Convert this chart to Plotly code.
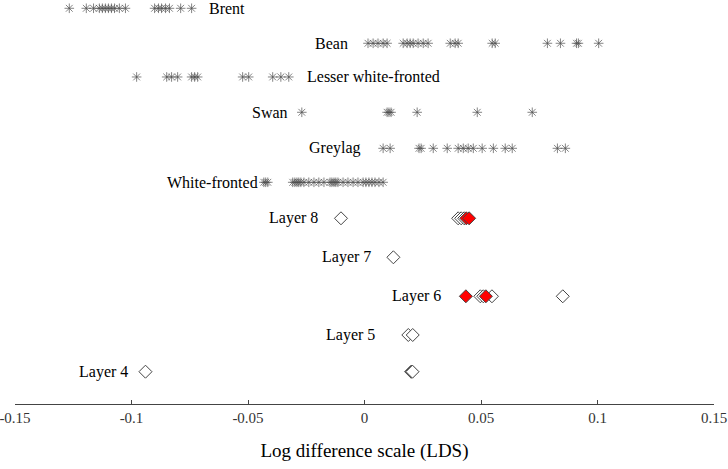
import plotly.graph_objects as go

# ---- data ----
rows = ["Brent", "Bean", "Lesser white-fronted", "Swan", "Greylag", "White-fronted",
        "Layer 8", "Layer 7", "Layer 6", "Layer 5", "Layer 4"]

brent = [-0.1267, -0.1194, -0.1163, -0.1138, -0.1125, -0.1112, -0.1099, -0.1086, -0.1073,
         -0.1052, -0.1026, -0.0901, -0.0884, -0.0871, -0.0854, -0.0837, -0.0789, -0.0742]
bean = [0.0015, 0.0037, 0.0058, 0.0080, 0.0097, 0.0166, 0.0183, 0.0196, 0.0209, 0.0230,
        0.0252, 0.0273, 0.0368, 0.0389, 0.0402, 0.0548, 0.0561, 0.0785, 0.0841, 0.0910,
        0.0918, 0.1005]
lesser = [-0.0978, -0.0849, -0.0828, -0.0802, -0.0742, -0.0729, -0.0716, -0.0523, -0.0497,
          -0.0394, -0.0359, -0.0325]
swan = [-0.0269, 0.0097, 0.0105, 0.0114, 0.0226, 0.0484, 0.0720]
greylag = [0.0080, 0.0110, 0.0234, 0.0243, 0.0295, 0.0355, 0.0402, 0.0424, 0.0445, 0.0467,
           0.0505, 0.0553, 0.0604, 0.0634, 0.0828, 0.0862]
whitefronted = [-0.0432, -0.0424, -0.0415, -0.0308, -0.0299, -0.0290, -0.0282, -0.0273,
                -0.0260, -0.0239, -0.0217, -0.0196, -0.0174, -0.0148, -0.0140, -0.0131,
                -0.0123, -0.0114, -0.0092, -0.0071, -0.0049, -0.0028, -0.0006, 0.0006,
                0.0019, 0.0032, 0.0045, 0.0062, 0.0080]

layer8_open = [-0.0101, 0.0402, 0.0415, 0.0428]
layer8_red = [0.0437, 0.0449]
layer7_open = [0.0124]
layer6_open = [0.0497, 0.0510, 0.0547, 0.0851]
layer6_red = [0.0435, 0.0521]
layer5_open = [0.0188, 0.0207]
layer4_open = [-0.0940, 0.0200, 0.0203, 0.0206]

goose_series = [brent, bean, lesser, swan, greylag, whitefronted]
layer_open = [layer8_open, layer7_open, layer6_open, layer5_open, layer4_open]
layer_red = [layer8_red, [], layer6_red, [], []]

x_ticks = [-0.15, -0.1, -0.05, 0, 0.05, 0.1, 0.15]
x_tick_labels = ["-0.15", "-0.1", "-0.05", "0", "0.05", "0.1", "0.15"]

# ---- layout helpers (row slots and label anchors) ----
row_slot = [0, 0.963, 1.89, 2.862, 3.853, 4.788, 5.779, 6.852, 7.925, 8.99, 10.0]
label_x = [-0.0677, -0.0062, -0.0256, -0.0320, -0.0006, -0.0449,
           -0.0191, 0.0037, 0.0338, 0.0054, -0.1008]
label_anchor = ["left", "right", "left", "right", "right", "right",
                "right", "right", "right", "right", "right"]

SERIF = "Liberation Serif"
fig = go.Figure()

for i, vals in enumerate(goose_series):
    fig.add_trace(go.Scatter(
        x=vals, y=[row_slot[i]] * len(vals), mode="markers",
        marker=dict(symbol="asterisk-open", size=8, color="rgba(80,80,80,0.7)",
                    line=dict(color="rgba(80,80,80,0.7)", width=1)),
        showlegend=False, hoverinfo="x", cliponaxis=False))

for j, vals in enumerate(layer_open):
    i = 6 + j
    fig.add_trace(go.Scatter(
        x=vals, y=[row_slot[i]] * len(vals), mode="markers",
        marker=dict(symbol="diamond", size=10, color="white",
                    line=dict(color="#444444", width=1)),
        showlegend=False, hoverinfo="x", cliponaxis=False))
    if layer_red[j]:
        fig.add_trace(go.Scatter(
            x=layer_red[j], y=[row_slot[i]] * len(layer_red[j]), mode="markers",
            marker=dict(symbol="diamond", size=10, color="#ff0000",
                        line=dict(color="#444444", width=1)),
            showlegend=False, hoverinfo="x", cliponaxis=False))

for i, name in enumerate(rows):
    fig.add_annotation(x=label_x[i], y=row_slot[i], text=name, showarrow=False,
                       xanchor=label_anchor[i], yanchor="middle",
                       font=dict(family=SERIF, size=16, color="black"))

fig.update_layout(
    width=728, height=469,
    margin=dict(l=15, r=14, t=0, b=65, autoexpand=False),
    font=dict(family=SERIF),
    plot_bgcolor="white", paper_bgcolor="white",
    xaxis=dict(range=[-0.15, 0.15], tickvals=x_ticks, ticktext=x_tick_labels,
               automargin=False, ticklabeloverflow="allow",
               showgrid=False, zeroline=False, showline=True, linecolor="#444444",
               linewidth=1, ticks="inside", ticklen=4, tickcolor="#444444",
               tickfont=dict(family=SERIF, size=15, color="#333333"),
               title=dict(text="Log difference scale (LDS)",
                          font=dict(family=SERIF, size=19, color="black"), standoff=18)),
    yaxis=dict(range=[10.889, -0.228], automargin=False, showgrid=False, zeroline=False,
               showline=False, showticklabels=False, ticks=""),
)

fig.write_html("out.html",
               config={"displayModeBar": False},
               post_script="document.body.style.margin='0';document.body.style.overflow='hidden';")
